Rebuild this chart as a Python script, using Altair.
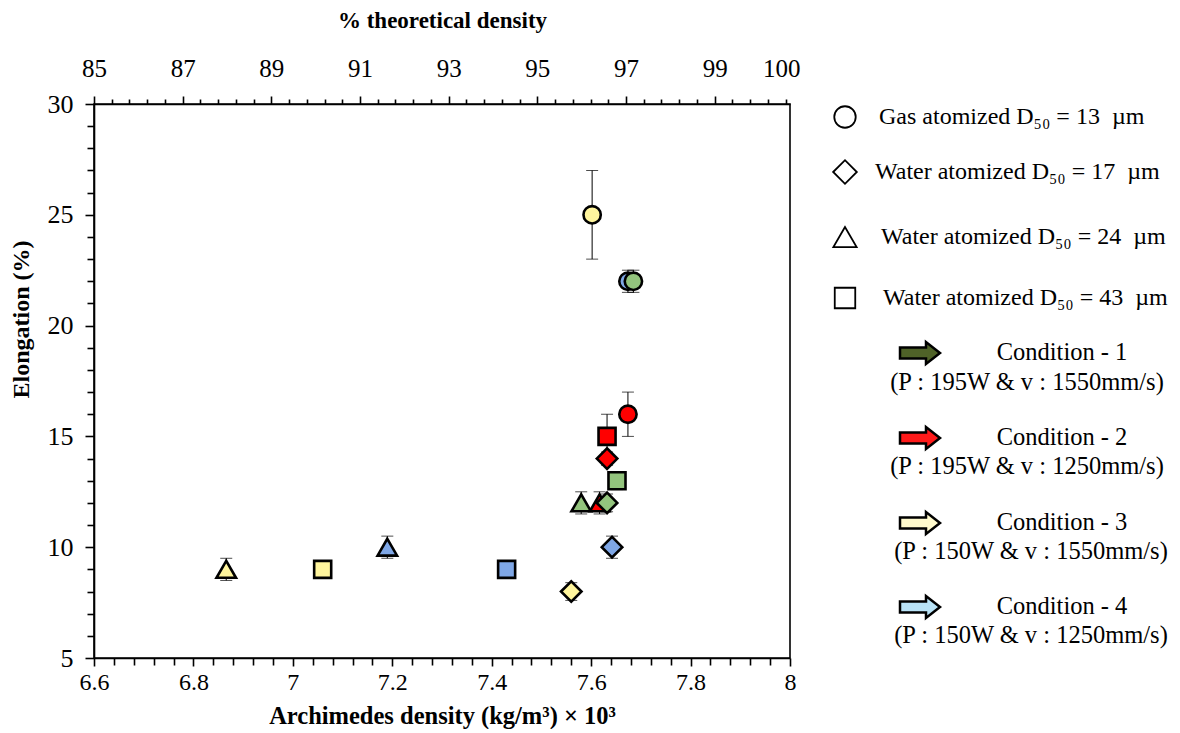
import altair as alt
import pandas as pd

# ---------------- data ----------------
powder = ["W24", "W43", "W24", "W43", "W17", "W24", "W24", "W17",
          "W17", "W43", "W17", "W43", "G13", "G13", "G13", "G13"]
condition = ["C3", "C3", "C4", "C4", "C3", "C1", "C2", "C1",
             "C4", "C1", "C2", "C2", "C2", "C4", "C1", "C3"]
density = [6.866, 7.06, 7.19, 7.43, 7.56, 7.58, 7.617, 7.632,
           7.642, 7.652, 7.632, 7.632, 7.674, 7.674, 7.685, 7.602]
elongation = [9, 9, 10, 9, 8, 12, 12, 12, 10, 13, 14, 15, 16, 22, 22, 25]
error = [0.5, 0.2, 0.5, 0.4, 0.4, 0.5, 0.5, 0.4, 0.5, 0.4, 0.3, 1.0, 1.0, 0.5, 0.5, 2.0]

powder_keys = ["G13", "W17", "W24", "W43"]
powder_shapes = ["circle", "diamond", "triangle-up", "square"]
powder_sizes = [300, 420, 380, 290]
legend_sizes = [460, 560, 540, 420]
powder_labels = ["Gas atomized D₅₀ = 13\u00a0 µm", "Water atomized D₅₀ = 17\u00a0 µm",
                 "Water atomized D₅₀ = 24\u00a0 µm", "Water atomized D₅₀ = 43\u00a0 µm"]

cond_keys = ["C1", "C2", "C3", "C4"]
cond_fill = ["#93c47d", "#ff0000", "#fff59d", "#7fa7e6"]
arrow_fill = ["#4f6228", "#ff1a1a", "#fffacd", "#b9e3f7"]
cond_titles = ["Condition - 1", "Condition - 2", "Condition - 3", "Condition - 4"]
cond_params = ["(P : 195W & v : 1550mm/s)", "(P : 195W & v : 1250mm/s)",
               "(P : 150W & v : 1550mm/s)", "(P : 150W & v : 1250mm/s)"]

pct_domain = [85, 100.7]

FONT = "Liberation Serif"
LFONT = "Liberation Serif, DejaVu Serif, serif"
W, H = 696, 554

size_of = dict(zip(powder_keys, powder_sizes))
df = pd.DataFrame({"powder": powder, "condition": condition,
                   "density": density, "elong": elongation, "err": error})
df["lo"] = df["elong"] - df["err"]
df["hi"] = df["elong"] + df["err"]
df["order"] = range(len(df))
df["sz"] = df["powder"].map(size_of)

# ---------------- axes ----------------
x_ticks = [round(6.6 + 0.04 * i, 2) for i in range(36)]
x_major = "abs(datum.value*5 - round(datum.value*5)) < 0.001"
x_axis = alt.Axis(
    orient="bottom", values=x_ticks, title="Archimedes density (kg/m³) × 10³",
    labelExpr=f"{x_major} ? format(datum.value, '.1~f') : ''",
    tickSize={"condition": {"test": x_major, "value": 8}, "value": 7},
    labelFont=FONT, labelFontSize=24,
    labelOverlap=False, labelFlush=False, labelBound=False, labelPadding=4, titlePadding=10,
    titleFontSize=24.5, grid=False,
)

y_ticks = list(range(5, 31))
y_major = "datum.value % 5 == 0"
y_axis = alt.Axis(
    orient="left", values=y_ticks, title="Elongation (%)",
    labelExpr=f"{y_major} ? format(datum.value, 'd') : ''",
    tickSize={"condition": {"test": y_major, "value": 9}, "value": 7},
    labelFont=FONT, labelFontSize=26,
    labelOverlap=False, labelFlush=False, labelBound=False, labelPadding=12, titlePadding=14,
    titleFontSize=24, titleY=215, grid=False,
)

t_ticks = [round(85 + 0.4 * i, 1) for i in range(40)] + [100.5]
t_last = "abs(datum.value - 100.5) < 0.01"
t_major = "abs(datum.value - round(datum.value)) < 0.01 && round(datum.value) % 2 == 1"
t_axis = alt.Axis(
    orient="top", values=t_ticks, title="% theoretical density",
    labelExpr=f"{t_last} ? '100' : ({t_major} ? format(datum.value, 'd') : '')",
    tickSize={"condition": [{"test": t_last, "value": 8},
                            {"test": t_major, "value": 8}], "value": 5},
    tickOpacity={"condition": {"test": t_last, "value": 0}, "value": 1},
    labelFont=FONT, labelFontSize=25,
    labelOverlap=False, labelFlush=False, labelBound=False, labelPadding=15, titlePadding=24,
    grid=False,
)

xs = alt.Scale(domain=[6.6, 8.0], nice=False, zero=False)
ys = alt.Scale(domain=[5, 30], nice=False, zero=False)

X = alt.X("density:Q", scale=xs, axis=x_axis)
base = alt.Chart(df)
err_rule = base.mark_rule(color="black", strokeWidth=1).encode(
    x=X, y=alt.Y("lo:Q", scale=ys, axis=y_axis), y2="hi:Q",
)
cap_lo = base.mark_tick(orient="horizontal", size=12, thickness=1, color="black").encode(
    x=X, y=alt.Y("lo:Q", scale=ys, axis=y_axis))
cap_hi = base.mark_tick(orient="horizontal", size=12, thickness=1, color="black").encode(
    x=X, y=alt.Y("hi:Q", scale=ys, axis=y_axis))
points = base.mark_point(filled=True, stroke="black", strokeWidth=2.6, opacity=1).encode(
    x=X,
    y=alt.Y("elong:Q", scale=ys, axis=y_axis),
    shape=alt.Shape("powder:N", scale=alt.Scale(domain=powder_keys, range=powder_shapes), legend=None),
    size=alt.Size("sz:Q", scale=None, legend=None),
    fill=alt.Fill("condition:N", scale=alt.Scale(domain=cond_keys, range=cond_fill), legend=None),
    order=alt.Order("order:Q"),
)
main_layers = alt.layer(err_rule, cap_lo, cap_hi, points)

top = alt.Chart(pd.DataFrame({"pct": pct_domain})).mark_rule(opacity=0).encode(
    x=alt.X("pct:Q", scale=alt.Scale(domain=pct_domain, nice=False, zero=False), axis=t_axis)
)

main = alt.layer(main_layers, top).resolve_scale(x="independent").properties(
    width=W, height=H, view=alt.ViewBackground(stroke="black", strokeWidth=1.6)
)

# ---------------- legend panel ----------------
LW = 360
leg_shape_y = [13, 68, 133, 194]
leg_text_x = [78, 74, 80, 82]
leg_cond_y = [249, 334, 419, 503]
leg_param_y = [279, 363, 448, 532]
leg_param_x = [226, 226, 230, 230]

lx = alt.Scale(domain=[0, LW], nice=False, zero=False)
ly = alt.Scale(domain=[0, H], nice=False, zero=False, reverse=True)

shape_df = pd.DataFrame({"powder": powder_keys, "label": powder_labels, "sz": legend_sizes,
                         "y": leg_shape_y, "tx": leg_text_x, "x": [44] * 4})
cond_df = pd.DataFrame({"condition": cond_keys, "title": cond_titles, "param": cond_params,
                        "y": leg_cond_y, "py": leg_param_y, "px": leg_param_x,
                        "ax": [119] * 4, "cx": [261] * 4})

arrow_path = "M-1,-0.27L0.3,-0.27L0.3,-0.55L1,0L0.3,0.55L0.3,0.27L-1,0.27Z"

leg_shapes = alt.Chart(shape_df).mark_point(filled=False, stroke="black",
                                            strokeWidth=1.8, opacity=1).encode(
    x=alt.X("x:Q", scale=lx, axis=None), y=alt.Y("y:Q", scale=ly, axis=None),
    shape=alt.Shape("powder:N", scale=alt.Scale(domain=powder_keys, range=powder_shapes), legend=None),
    size=alt.Size("sz:Q", scale=None, legend=None),
)
leg_shape_text = alt.Chart(shape_df).mark_text(align="left", baseline="middle", font=LFONT,
                                               fontSize=24, color="black").encode(
    x=alt.X("tx:Q", scale=lx, axis=None), y=alt.Y("y:Q", scale=ly, axis=None), text="label:N")
leg_arrows = alt.Chart(cond_df).mark_point(shape=arrow_path, filled=True, size=1600,
                                           stroke="black", strokeWidth=2.5, opacity=1).encode(
    x=alt.X("ax:Q", scale=lx, axis=None), y=alt.Y("y:Q", scale=ly, axis=None),
    fill=alt.Fill("condition:N", scale=alt.Scale(domain=cond_keys, range=arrow_fill), legend=None),
)
leg_cond_text = alt.Chart(cond_df).mark_text(align="center", baseline="middle", font=LFONT,
                                             fontSize=24.5, color="black").encode(
    x=alt.X("cx:Q", scale=lx, axis=None), y=alt.Y("y:Q", scale=ly, axis=None), text="title:N")
leg_param_text = alt.Chart(cond_df).mark_text(align="center", baseline="middle", font=LFONT,
                                              fontSize=24.5, color="black").encode(
    x=alt.X("px:Q", scale=lx, axis=None), y=alt.Y("py:Q", scale=ly, axis=None), text="param:N")

legend = alt.layer(leg_shapes, leg_shape_text, leg_arrows, leg_cond_text, leg_param_text).resolve_scale(
    fill="independent"
).properties(width=LW, height=H, view=alt.ViewBackground(stroke=None))

chart = alt.hconcat(main, legend, spacing=0).properties(
    padding=0, background="white"
).configure_axis(
    labelFont=FONT, labelColor="black", labelOverlap=False,
    titleFont=FONT, titleFontSize=23, titleFontWeight="bold", titleColor="black",
    domainColor="black", domainWidth=1.6, tickColor="black", tickWidth=1.6,
).configure_view(stroke=None)

chart.save("out.html", embed_options={"renderer": "svg", "actions": False})
